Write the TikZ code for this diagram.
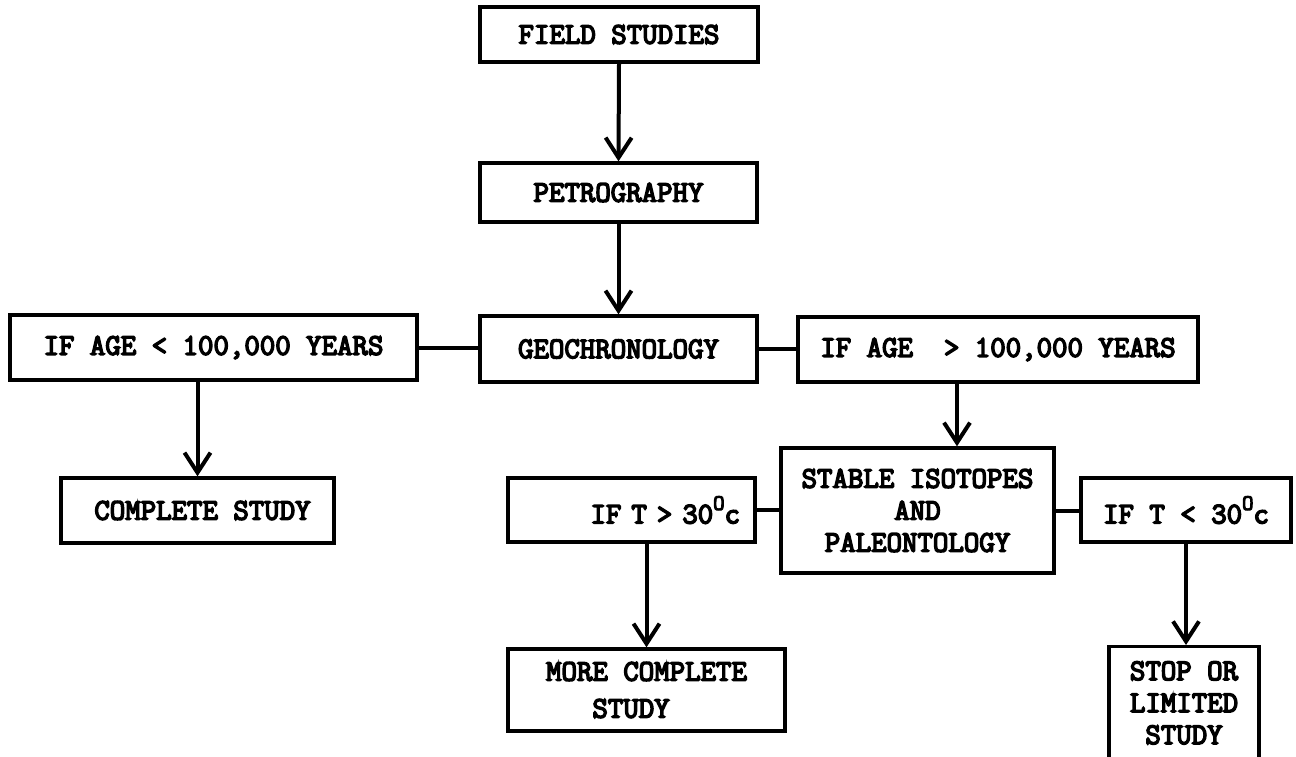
\documentclass[tikz,border=0pt]{standalone}
\usepackage{fontspec}
\newfontfamily\twfont[FakeBold=5]{Latin Modern Mono}
\newcommand\supO{\raisebox{0.45em}{\fontsize{22}{22}\selectfont O}}
\usetikzlibrary{arrows.meta}
\begin{document}
\begin{tikzpicture}[x=1pt,y=-1pt,
  box/.style={draw, line width=3.4pt, inner sep=0pt, align=center,
    font=\twfont\fontsize{30}{34}\selectfont},
  arr/.style={line width=4pt, -{Straight Barb[length=20pt,width=26pt]}},
  link/.style={line width=4pt}]
\useasboundingbox (0,0) rectangle (1296,756);
\clip (0,0) rectangle (1296,756);
\fill[white] (0,0) rectangle (1296,756);

\node[box, minimum width=278pt, minimum height=55pt] (field) at (619,34.5) {FIELD STUDIES};
\node[box, minimum width=277pt, minimum height=59pt] (petro) at (618.5,192.5) {PETROGRAPHY};
\node[box, minimum width=277pt, minimum height=66pt] (geo) at (618.5,349) {GEOCHRONOLOGY};
\node[box, minimum width=407pt, minimum height=65pt] (agelt) at (213.5,347.5) {IF AGE < 100,000 YEARS};
\node[box, minimum width=400pt, minimum height=65pt] (agegt) at (998,349.5) {IF AGE\ \ > 100,000 YEARS};
\node[box, minimum width=273pt, minimum height=65pt] (complete) at (197.5,510.5) {\hspace*{10pt}COMPLETE STUDY};
\node[box, minimum width=273pt, minimum height=125pt, font=\twfont\fontsize{30}{32}\selectfont] (stable) at (917.5,510.5) {STABLE ISOTOPES\\AND\\PALEONTOLOGY};
\node[box, minimum width=247pt, minimum height=64pt, text width=217pt, inner xsep=15pt, align=right] (tgt) at (631.5,510) {IF T > 30\supO c};
\node[box, minimum width=210pt, minimum height=64pt] (tlt) at (1186,510) {IF T < 30\supO c};
\node[box, minimum width=277pt, minimum height=82pt, align=left, font=\twfont\fontsize{30}{37}\selectfont] (more) at (646.5,690) {MORE COMPLETE\\\hphantom{MOR}STUDY};
\node[box, minimum width=150pt, minimum height=130pt, anchor=north, font=\twfont\fontsize{30}{32}\selectfont] (stop) at (1184,645) {STOP OR\\LIMITED\\STUDY\\[-14pt]};

\coordinate (ax) at (957,0);

\draw[arr] (field.south) -- (petro.north);
\draw[arr] (petro.south) -- (geo.north);
\draw[link] (agelt.east) -- (agelt.east -| geo.west);
\draw[link] (geo.east) -- (geo.east -| agegt.west);
\draw[arr] (agelt.south -| complete.north) -- (complete.north);
\draw[arr] (agegt.south -| ax) -- (stable.north -| ax);
\draw[link] (tgt.east) -- (tgt.east -| stable.west);
\draw[link] (stable.east) -- (stable.east -| tlt.west);
\draw[arr] (tgt.south -| more.north) -- (more.north);
\draw[arr] (tlt.south) -- (tlt.south |- stop.north);
\end{tikzpicture}
\end{document}
